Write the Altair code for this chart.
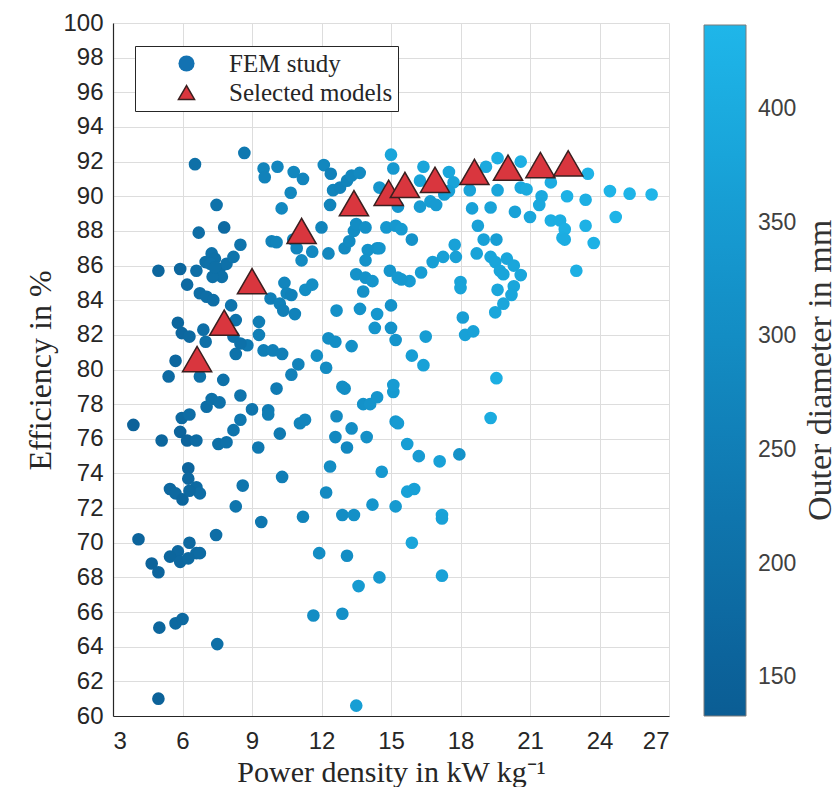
import altair as alt
import pandas as pd

# ---------------- data ----------------
fem_x = [3.88, 5.1, 5.97, 5.9, 6.2, 6.6, 6.3, 7.04, 7.26, 7.6, 8.5, 9.0, 7.55, 7.9, 8.2, 8.5, 9.7, 9.7, 9.27, 10.2,
         10.06, 11.07, 11.29, 13.0, 12.65, 12.6, 13.1, 13.3, 13.95, 13.8, 14.1, 14.4, 15.1, 15.1, 15.2, 6.25, 6.25, 6.6, 6.75, 5.46,
         5.7, 6.0, 6.3, 8.6, 8.3, 9.4, 10.3, 11.2, 12.37, 12.2, 12.9, 13.4, 14.2, 14.6, 15.2, 4.1, 6.3, 6.6, 6.75, 5.8,
         5.46, 5.9, 6.25, 4.67, 4.96, 7.45, 11.9, 13.1, 13.6, 14.5, 11.65, 12.9, 5.0, 5.7, 6.0, 7.5, 4.96, 13.5, 19.3, 15.3,
         15.7, 16.2, 17.1, 17.95, 15.7, 16.0, 17.2, 17.2, 15.9, 17.2, 19.55,
         6.54, 8.67, 9.5, 9.55, 10.1, 10.8, 11.2, 12.1, 12.4, 12.5, 12.8, 13.1, 13.3, 13.65, 15.0, 15.1, 14.5, 10.67, 12.37, 10.28,
         7.47, 6.7, 7.8, 8.5, 9.85, 10.06, 12.0, 11.14, 10.78, 10.93, 11.6, 12.3, 13.0, 13.2, 13.4, 13.5, 13.9, 14.0, 13.9, 14.4,
         14.5, 14.8, 13.5, 13.9, 14.2, 13.8, 14.95, 15.3, 15.0, 14.4, 14.3, 15.0, 15.2, 10.4, 10.5, 11.3, 11.6, 9.8, 10.2, 10.7,
         10.35, 10.85, 12.65, 13.66, 12.3, 12.6, 13.3, 11.8, 12.2, 11.0, 10.7, 12.9, 9.5, 9.9, 10.3, 9.3, 9.3, 8.8, 8.3, 8.1,
         8.3, 8.2, 8.5, 6.9, 7.0, 5.8, 5.97, 6.3, 5.7, 5.4, 6.75, 7.76, 4.96, 5.9, 6.2, 6.6, 7.0, 7.26, 7.4, 7.6,
         7.7, 7.3, 7.9, 8.2, 7.2, 7.4, 6.75, 7.04, 7.33,
         16.4, 16.25, 17.5, 17.7, 19.1, 19.6, 20.6, 20.6, 20.85, 21.9, 23.5, 24.45, 25.3, 26.25, 22.6, 23.4, 24.7, 21.5, 21.4, 21.0,
         19.6, 18.4, 18.5, 19.3, 20.35, 18.75, 21.9, 22.3, 22.5, 22.4, 22.5, 23.4, 23.75, 23.0, 15.3, 15.2, 15.45, 15.9, 16.25, 16.7,
         16.95, 17.3, 17.5, 17.75, 17.8, 17.25, 16.8, 16.3, 15.8, 15.45, 19.0, 19.55, 18.7, 19.3, 19.5, 20.0, 20.3, 20.6, 19.7, 19.85,
         18.0, 18.0, 20.3, 20.2, 19.85, 19.5, 19.6, 18.1, 18.2, 18.55, 16.5, 15.9, 16.4]

fem_y = [76.8, 75.9, 77.2, 76.4, 75.9, 75.9, 77.4, 77.85, 78.3, 78.1, 78.5, 77.7, 75.7, 75.8, 76.5, 77.1, 77.65, 77.4, 75.5, 76.3,
         78.9, 76.9, 77.1, 78.9, 77.3, 76.1, 75.5, 76.6, 76.1, 78.0, 78.0, 78.4, 78.7, 79.1, 77.0, 74.3, 73.7, 73.2, 72.85, 73.1,
         72.85, 72.5, 73.0, 73.3, 72.1, 71.2, 73.8, 71.5, 74.4, 72.9, 71.6, 71.6, 72.2, 74.1, 72.1, 70.2, 70.0, 69.4, 69.4, 69.5,
         69.2, 68.9, 69.1, 68.8, 68.3, 70.45, 69.4, 69.25, 67.5, 68.0, 65.8, 65.9, 65.1, 65.35, 65.6, 64.15, 61.0, 60.6, 77.2, 76.9,
         75.7, 75.0, 74.7, 75.1, 72.95, 73.1, 71.6, 71.4, 70.0, 68.1, 79.5,
         91.85, 92.5, 91.6, 91.1, 91.7, 91.4, 91.0, 91.8, 91.3, 90.35, 90.5, 90.9, 91.2, 91.35, 92.4, 91.6, 90.5, 90.2, 89.5, 89.3,
         89.5, 87.9, 88.2, 87.2, 87.4, 87.35, 88.2, 86.3, 87.5, 87.0, 86.8, 86.7, 87.0, 87.4, 88.0, 88.4, 88.2, 86.9, 86.3, 87.0,
         87.0, 88.2, 85.5, 85.3, 85.1, 84.5, 85.7, 85.3, 83.7, 83.2, 82.4, 82.4, 81.7, 85.0, 84.4, 84.6, 84.9, 84.1, 83.8, 84.3,
         83.4, 83.2, 83.4, 83.5, 81.8, 81.6, 81.35, 80.8, 80.1, 80.3, 79.7, 79.0, 81.1, 81.1, 80.9, 82.75, 82.0, 81.4, 80.9, 83.7,
         82.85, 81.9, 81.5, 82.3, 81.6, 82.7, 82.1, 81.9, 80.5, 79.6, 79.6, 79.4, 85.7, 85.8, 84.9, 85.7, 86.2, 86.7, 86.4, 85.8,
         85.35, 85.35, 86.1, 86.5, 86.1, 85.9, 84.4, 84.2, 84.0,
         91.7, 90.9, 91.4, 90.8, 91.7, 92.2, 92.0, 90.5, 90.4, 90.8, 91.3, 90.3, 90.15, 90.1, 90.0, 89.8, 88.8, 90.0, 89.5, 88.8,
         90.35, 90.35, 89.3, 89.35, 89.1, 88.3, 88.6, 88.6, 88.1, 87.6, 87.5, 88.3, 87.3, 85.7, 89.4, 88.3, 88.1, 87.5, 89.4, 89.7,
         89.5, 90.1, 90.3, 87.2, 86.5, 86.5, 86.2, 85.6, 85.1, 85.2, 87.5, 87.5, 86.7, 86.5, 86.2, 86.4, 86.0, 85.45, 85.7, 85.5,
         85.05, 84.7, 84.8, 84.3, 83.8, 83.3, 84.6, 83.0, 82.0, 82.2, 81.9, 80.8, 80.25]

fem_d = [150, 165, 175, 160, 160, 185, 190, 195, 200, 205, 215, 215, 200, 205, 215, 225, 240, 245, 230, 235,
         240, 270, 275, 300, 290, 285, 285, 300, 310, 320, 325, 330, 345, 350, 340, 160, 170, 180, 190, 170,
         175, 165, 175, 220, 220, 225, 250, 270, 300, 290, 300, 310, 330, 340, 345, 160, 175, 180, 185, 170,
         165, 170, 175, 155, 160, 195, 300, 300, 345, 340, 300, 310, 165, 175, 175, 200, 150, 360, 400, 350,
         360, 350, 370, 320, 370, 365, 375, 370, 380, 370, 410,
         200, 230, 270, 265, 275, 280, 275, 280, 260, 270, 265, 270, 280, 290, 380, 340, 330, 280, 270, 285,
         210, 190, 180, 215, 265, 270, 270, 290, 280, 275, 285, 280, 290, 295, 300, 300, 310, 320, 320, 320,
         325, 340, 320, 320, 325, 310, 330, 340, 320, 335, 330, 320, 325, 275, 270, 300, 300, 250, 260, 260,
         255, 265, 310, 320, 300, 305, 310, 300, 295, 265, 260, 305, 250, 255, 255, 245, 250, 225, 210, 215,
         210, 205, 205, 195, 200, 165, 170, 175, 170, 180, 200, 205, 165, 165, 180, 195, 200, 205, 200, 195,
         200, 200, 205, 215, 205, 200, 190, 195, 195,
         380, 375, 385, 375, 395, 410, 415, 390, 400, 405, 425, 430, 430, 435, 420, 415, 430, 395, 390, 385,
         380, 375, 370, 375, 370, 370, 410, 410, 415, 410, 405, 420, 420, 415, 330, 340, 345, 320, 350, 355,
         350, 360, 365, 370, 365, 365, 360, 355, 350, 340, 370, 360, 375, 380, 380, 385, 385, 385, 380, 380,
         375, 375, 385, 385, 385, 385, 385, 360, 370, 370, 355, 360, 370]

sel_x = [6.63, 7.8, 9.0, 11.14, 13.4, 14.9, 15.6, 16.9, 18.6, 20.05, 21.45, 22.65]
sel_y = [80.6, 82.7, 85.1, 88.0, 89.6, 90.2, 90.65, 90.95, 91.4, 91.65, 91.8, 91.9]

series_names = ["FEM study", "Selected models"]
x_ticks = [3, 6, 9, 12, 15, 18, 21, 24, 27]
y_ticks = list(range(60, 101, 2))
cbar_ticks = [150, 200, 250, 300, 350, 400]

fem = pd.DataFrame({"pd": fem_x, "eff": fem_y, "dia": fem_d})
sel = pd.DataFrame({"pd": sel_x, "eff": sel_y, "series": ["Selected models"] * len(sel_x)})

SERIF = "Liberation Serif"
SANS = "Liberation Sans"

x_enc = alt.X("pd:Q", scale=alt.Scale(domain=[3, 27], nice=False, zero=False),
              axis=alt.Axis(values=x_ticks, title="Power density in kW kg⁻¹", format="d",
                            titleFontSize=30, titleY=65, titleBaseline="alphabetic"))
y_enc = alt.Y("eff:Q", scale=alt.Scale(domain=[60, 100], nice=False, zero=False),
              axis=alt.Axis(values=y_ticks, title="Efficiency in %", format="d",
                            titleFontSize=32, titleX=-63, titleY=347, titleBaseline="alphabetic",
                            titleAngle=270, titleAlign="center"))

points = alt.Chart(fem).mark_circle(size=160, opacity=1).encode(
    x=x_enc,
    y=y_enc,
    color=alt.Color("dia:Q",
                    scale=alt.Scale(domain=[133, 437], range=["#0b5d94", "#1fb6e9"], nice=False, zero=False),
                    legend=alt.Legend(
                        orient="none", legendX=591, legendY=2, direction="vertical",
                        gradientLength=691, gradientThickness=42,
                        gradientStrokeColor="#7a7a7a", gradientStrokeWidth=1,
                        values=cbar_ticks, labelFont=SANS, labelFontSize=23, labelColor="#404040",
                        labelOffset=12, padding=0, title=None,
                    )),
)

leg = alt.Legend(
    orient="none", legendX=22, legendY=23, title=None,
    labelFont=SERIF, labelFontSize=25, labelColor="#262626", labelLimit=400,
    fillColor="white", strokeColor="#262626", padding=5,
    symbolSize=260, symbolOffset=34, labelOffset=30, rowPadding=3,
)

selected = alt.Chart(sel).mark_point(filled=True, size=850, opacity=1, strokeWidth=1.5).encode(
    x=x_enc,
    y=y_enc,
    shape=alt.Shape("series:N", scale=alt.Scale(domain=series_names, range=["circle", "triangle-up"]), legend=leg),
    fill=alt.Fill("series:N", scale=alt.Scale(domain=series_names, range=["#1372b2", "#d9363e"]), legend=leg),
    stroke=alt.Stroke("series:N", scale=alt.Scale(domain=series_names, range=["rgba(0,0,0,0)", "#3a1f1f"]), legend=leg),
)

main = alt.layer(points, selected)

# invisible layer that only carries the colour-bar title on a right-hand axis
cbar_title = alt.Chart(sel).mark_point(opacity=0).encode(
    x=x_enc,
    y=alt.Y("eff:Q", scale=alt.Scale(domain=[60, 100], nice=False, zero=False),
            axis=alt.Axis(orient="right", labels=False, domain=False, grid=False, ticks=False,
                          title="Outer diameter in mm", titleAngle=270, titleX=151, titleY=347,
                          titleFontSize=34, titleAlign="center", titleBaseline="middle",
                          titleColor="#333333")),
)

chart = alt.layer(main, cbar_title).resolve_scale(y="independent").properties(
    width=556, height=693,
    autosize=alt.AutoSizeParams(type="none"),
    padding={"left": 113, "top": 23, "right": 168, "bottom": 71},
).configure_view(stroke=None).configure_axis(
    labelFont=SANS, labelFontSize=24, labelColor="#262626",
    titleFont=SERIF, titleFontSize=27, titleFontWeight="normal", titleColor="#262626",
    domainColor="#262626", domainWidth=1.2, ticks=False,
    gridColor="#dddddd", gridWidth=1,
).configure_axisX(labelPadding=13).configure_axisY(labelPadding=10)

chart.save("out.html", embed_options={"renderer": "svg", "actions": False})
